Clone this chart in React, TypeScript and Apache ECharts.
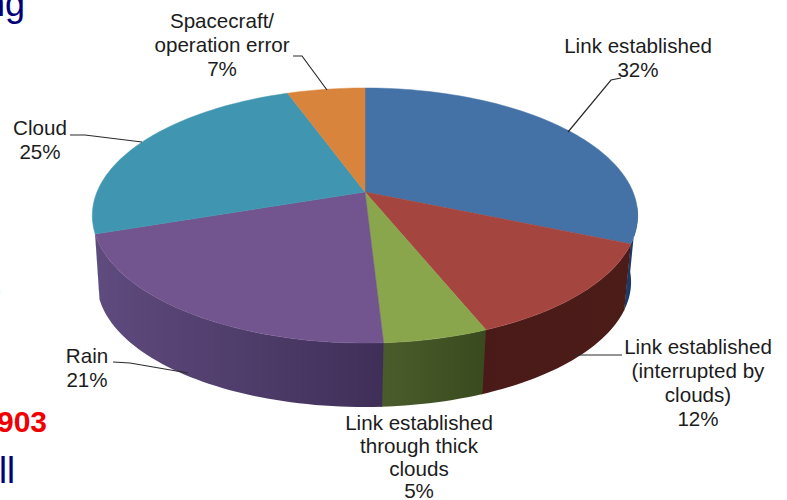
import React, { useEffect, useRef } from "react";
import * as echarts from "echarts";

const categories = ["Link established", "Link established (interrupted by clouds)", "Link established through thick clouds", "Rain", "Cloud", "Spacecraft/operation error"];
const sliceValues = [31.4, 12.5, 5.2, 20.7, 24.7, 5.5];
const topColors = ["#4472a6", "#a54540", "#8aa64d", "#72548f", "#4096b1", "#d8843c"];
const wallStart = ["#1d3d6e", "#4a1a18", "#4b5c2c", "#5f4b7e", "#2c6a80", "#9a5c28"];
const wallEnd = ["#1a3560", "#4c1c19", "#394a1e", "#3f2f58", "#2c6a80", "#9a5c28"];

const labelLines: [string, number, number, number][] = [
  ["Link established\n32%", 638, 33, 24],
  ["Link established\n(interrupted by\nclouds)\n12%", 698, 334, 24],
  ["Link established\nthrough thick\nclouds", 419, 411, 23],
  ["5%", 419, 480, 20],
  ["Rain\n21%", 87, 343, 24],
  ["Cloud\n25%", 40, 115, 24],
  ["Spacecraft/\noperation error\n7%", 222, 8, 24],
];
const leaders: number[][][] = [
  [[568, 132], [611, 80], [621, 78]],
  [[573, 355], [622, 355]],
  [[113, 362], [130, 363], [188, 373]],
  [[70, 135], [85, 135], [142, 142]],
  [[293, 56], [302, 56], [327, 90]],
];

const TOP = { cx: 365, cy: 192, rx: 268, ry: 123.2, k: 0.1844 };
const BOT = { cx: 364, cy: 259, rx: 262.5, ry: 120.7, k: 0.1844 };
const WALL_FROM = 96;
const WALL_TO = 251.5;

type P = typeof TOP;
function project(p: P, deg: number): number[] {
  const t = (deg * Math.PI) / 180;
  const u = Math.sin(t);
  const v = Math.cos(t);
  const den = 1 + p.k * v;
  return [p.cx + (p.rx * u) / den, p.cy - (p.ry * v) / den];
}
function arc(p: P, a: number, b: number): number[][] {
  const out: number[][] = [];
  const n = Math.max(2, Math.ceil(Math.abs(b - a) / 1.5));
  for (let i = 0; i <= n; i++) out.push(project(p, a + ((b - a) * i) / n));
  return out;
}
const total = sliceValues.reduce((s, v) => s + v, 0);
function sliceAngles(idx: number): number[] {
  let acc = 0;
  for (let i = 0; i < idx; i++) acc += sliceValues[i];
  return [(acc / total) * 360, ((acc + sliceValues[idx]) / total) * 360];
}

export default function App() {
  const ref = useRef<HTMLDivElement>(null);
  useEffect(() => {
    const chart = echarts.init(ref.current!, null, { renderer: "svg" });
    const font = "'Liberation Sans', Arial, sans-serif";
    chart.setOption({
      animation: false,
      backgroundColor: "#ffffff",
      series: [
        {
          type: "custom",
          coordinateSystem: "none",
          silent: true,
          z: 1,
          data: sliceValues,
          renderItem: (params: any) => {
            const [a0, a1] = sliceAngles(params.dataIndex);
            const a = Math.max(a0, WALL_FROM);
            const b = Math.min(a1 + 0.3, WALL_TO);
            if (b <= a) return { type: "group", children: [] };
            const pts = arc(TOP, a, b).concat(arc(BOT, b, a));
            const fill = new echarts.graphic.LinearGradient(0, 0, 1, 0, [
              { offset: 0, color: wallStart[params.dataIndex] },
              { offset: 1, color: wallEnd[params.dataIndex] },
            ]);
            return { type: "polygon", shape: { points: pts }, style: { fill } };
          },
        },
        {
          type: "custom",
          coordinateSystem: "none",
          silent: true,
          z: 2,
          data: sliceValues,
          renderItem: (params: any) => {
            const [a0, a1] = sliceAngles(params.dataIndex);
            const pts = [[TOP.cx, TOP.cy]].concat(arc(TOP, a0, a1));
            const c = topColors[params.dataIndex];
            return { type: "polygon", shape: { points: pts }, style: { fill: c, stroke: c, lineWidth: 0.5 } };
          },
        },
      ],
      graphic: [
        ...labelLines.map(([text, x, y, lh]) => ({
          type: "text",
          x,
          y,
          z: 10,
          style: { text, fill: "#1c1c1c", font: `20.6px ${font}`, textAlign: "center", textVerticalAlign: "top", lineHeight: lh },
        })),
        ...leaders.map((points) => ({
          type: "polyline",
          z: 9,
          shape: { points },
          style: { stroke: "#2a2a2a", lineWidth: 1.2, fill: "none" },
        })),
        { type: "text", x: -15, y: -15, z: 10, style: { text: "ng", fill: "#00007a", font: `36px ${font}` } },
        { type: "text", x: -17, y: 267, z: 10, style: { text: "s", fill: "#00007a", font: `36px ${font}` } },
        { type: "text", x: -3, y: 406, z: 10, style: { text: "903", fill: "#f00000", font: `bold 30px ${font}` } },
        { type: "text", x: -1, y: 452, z: 10, style: { text: "ll", fill: "#00007a", font: `36px ${font}` } },
      ],
    });
    return () => chart.dispose();
  }, []);
  return <div ref={ref} aria-label={categories.join(", ")} style={{ position: "absolute", left: 0, top: 0, width: 787, height: 500 }} />;
}
